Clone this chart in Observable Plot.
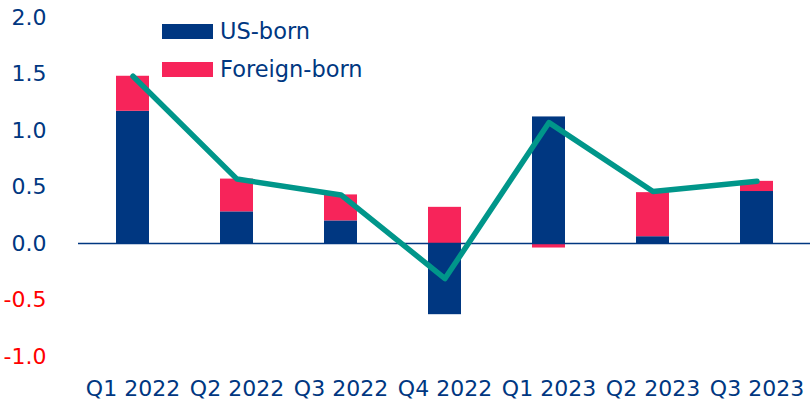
<!DOCTYPE html>
<html>
<head>
<meta charset="utf-8">
<script src="https://cdn.jsdelivr.net/npm/d3@7"></script>
<script src="https://cdn.jsdelivr.net/npm/@observablehq/plot@0.6"></script>
<style>
  html, body { margin: 0; padding: 0; background: #fff; }
  #wrap { position: relative; width: 810px; height: 401px; font-family: "DejaVu Sans", sans-serif; }
  .leg { position: absolute; left: 162px; height: 15px; display: flex; align-items: center; white-space: nowrap; }
  .sw { width: 51px; height: 15px; margin-right: 7px; }
  .lt { font-size: 22.5px; line-height: 15px; color: #003781; }
</style>
</head>
<body>
<div id="wrap"></div>
<script>
const quarters = ["Q1 2022", "Q2 2022", "Q3 2022", "Q4 2022", "Q1 2023", "Q2 2023", "Q3 2023"];
const usBorn = [1.17, 0.28, 0.20, -0.63, 1.12, 0.06, 0.46];
const foreignBorn = [0.31, 0.29, 0.23, 0.32, -0.04, 0.39, 0.09];
const totalLine = [1.48, 0.57, 0.43, -0.31, 1.07, 0.46, 0.55];
const seriesNames = ["US-born", "Foreign-born"];
const seriesColors = ["#003781", "#f7245a"];
const yTicksPos = [0, 0.5, 1.0, 1.5, 2.0];
const yTicksNeg = [-1.0, -0.5];

const navy = "#003781";
const bars = [];
quarters.forEach((q, i) => {
  bars.push({quarter: q, series: seriesNames[0], value: usBorn[i]});
  bars.push({quarter: q, series: seriesNames[1], value: foreignBorn[i]});
});
const line = quarters.map((q, i) => ({quarter: q, value: totalLine[i]}));

const fmt = d => d.toFixed(1);

const chart = Plot.plot({
  width: 810,
  height: 401,
  marginTop: 17,
  marginBottom: 45,
  marginLeft: 78,
  marginRight: 0,
  style: {fontFamily: "DejaVu Sans, sans-serif", fontSize: "22px", color: navy, background: "transparent"},
  x: {domain: quarters, paddingInner: 0.685, paddingOuter: 0.3425, label: null},
  y: {domain: [-1, 2], label: null},
  color: {domain: seriesNames, range: seriesColors},
  marks: [
    Plot.barY(bars, {x: "quarter", y: "value", fill: "series", order: seriesNames}),
    Plot.ruleY([0], {stroke: navy, strokeWidth: 1.6}),
    Plot.lineY(line, {x: "quarter", y: "value", stroke: "#00968a", strokeWidth: 5.5, strokeLinecap: "round", strokeLinejoin: "round"}),
    Plot.axisY(yTicksPos, {tickSize: 0, tickPadding: 32, tickFormat: fmt, fill: navy, label: null, fontSize: 22}),
    Plot.axisY(yTicksNeg, {tickSize: 0, tickPadding: 32, tickFormat: fmt, fill: "#ff0000", label: null, fontSize: 22}),
    Plot.axisX({tickSize: 0, tickPadding: 24, fill: navy, label: null, fontSize: 22})
  ]
});

const wrap = document.getElementById("wrap");
wrap.appendChild(chart);
seriesNames.forEach((name, i) => {
  const row = document.createElement("div");
  row.className = "leg";
  row.style.top = (24 + i * 38) + "px";
  const sw = document.createElement("div");
  sw.className = "sw";
  sw.style.background = seriesColors[i];
  const t = document.createElement("span");
  t.className = "lt";
  t.textContent = name;
  row.appendChild(sw);
  row.appendChild(t);
  wrap.appendChild(row);
});
</script>
</body>
</html>
